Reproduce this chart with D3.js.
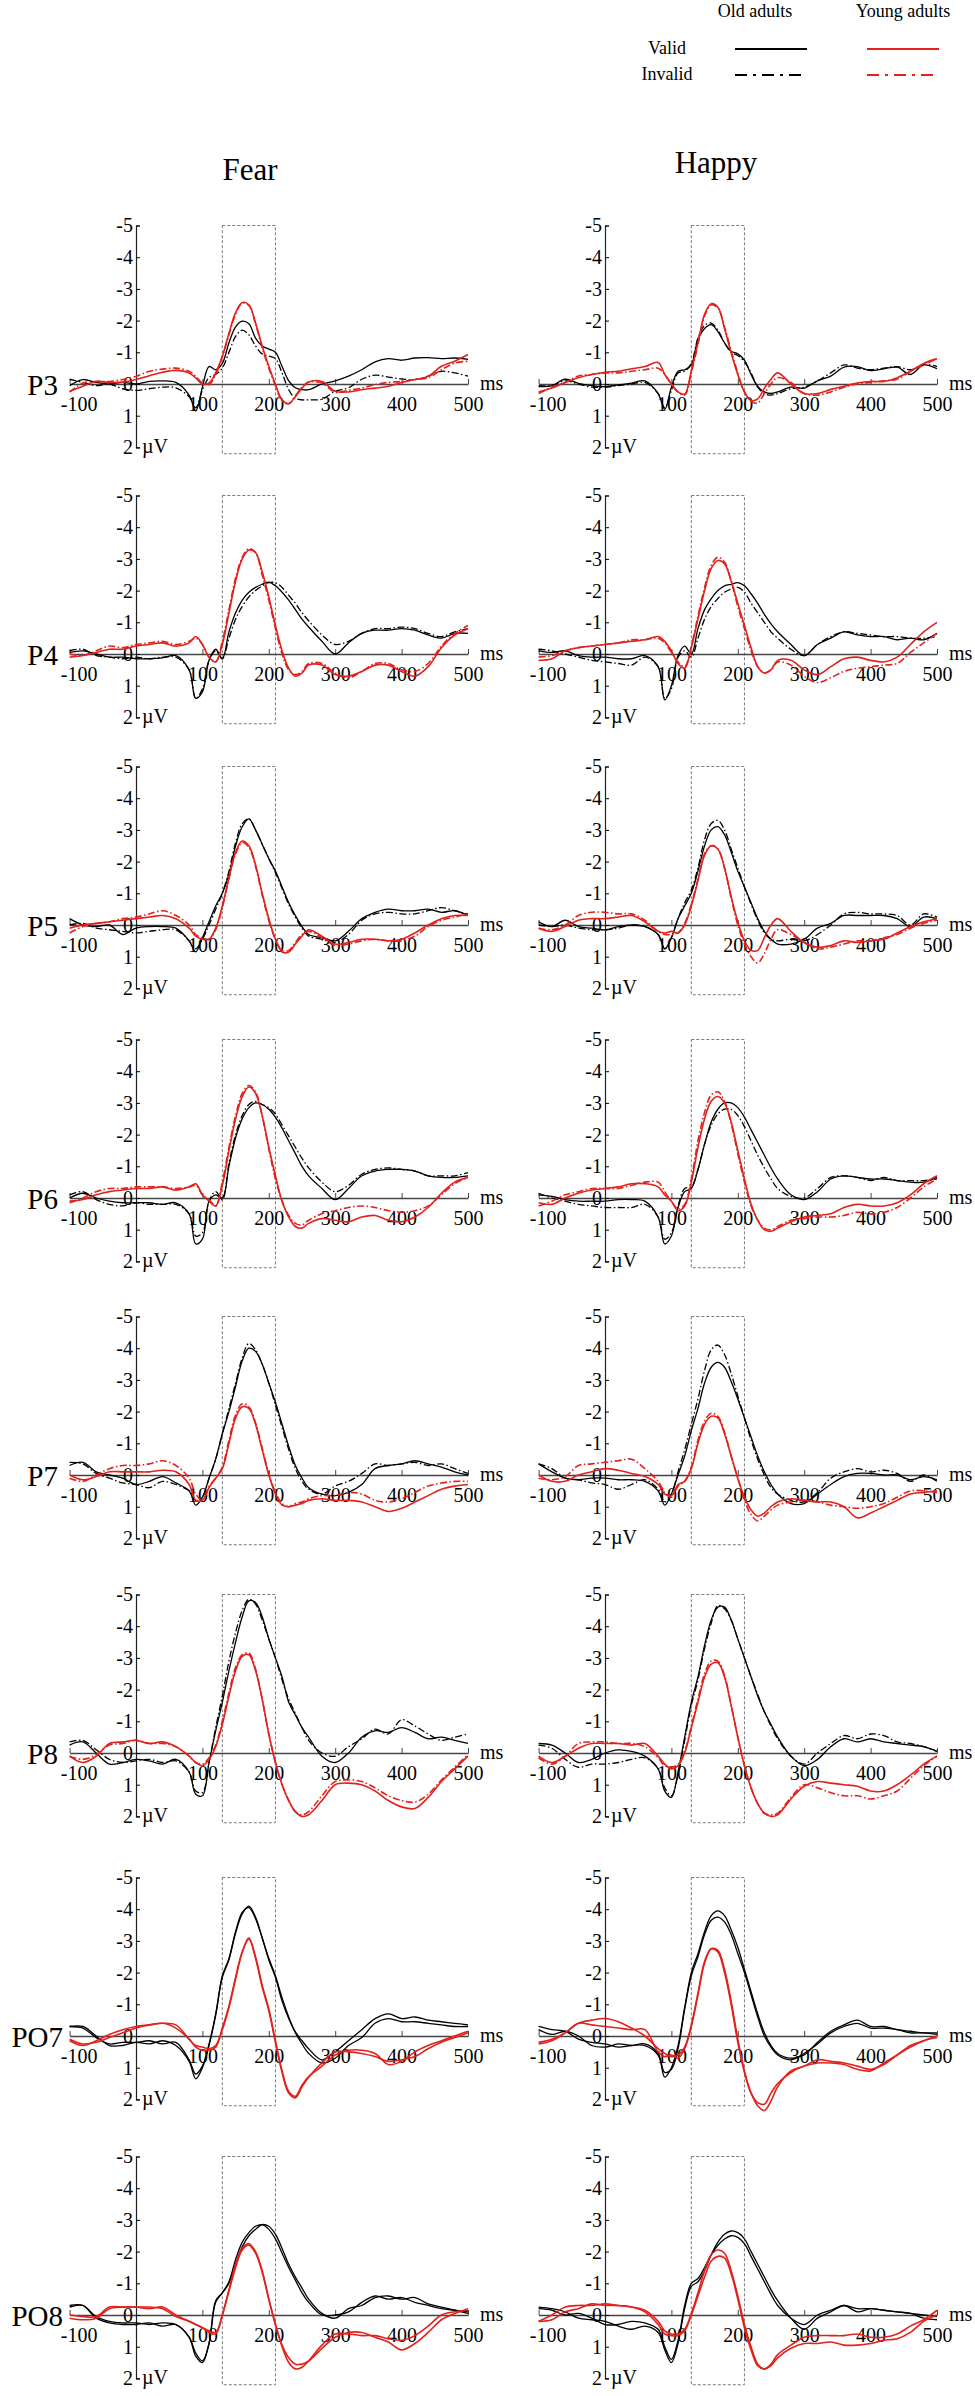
<!DOCTYPE html>
<html>
<head>
<meta charset="utf-8">
<script src="https://cdn.jsdelivr.net/npm/d3@7"></script>
<style>
  body { margin: 0; background: #fff; }
  svg { display: block; }
  text { font-family: "Liberation Serif", "Times New Roman", serif; fill: #000; }
</style>
</head>
<body>
<svg id="chart" width="975" height="2396"></svg>
<script>
// time points (ms) shared by every waveform
const times = [-100,-80,-60,-40,-20,0,20,40,60,80,90,100,110,120,130,140,150,160,170,180,190,200,210,220,230,240,250,260,280,300,320,340,360,380,400,420,440,460,480,500];

const electrodes = ["P3", "P4", "P5", "P6", "P7", "P8", "PO7", "PO8"];
const emotions = ["Fear", "Happy"];
const groups = ["Old adults", "Young adults"];
const conditions = ["Valid", "Invalid"];
const xTicks = [-100, 100, 200, 300, 400, 500];
const yTicks = [-5, -4, -3, -2, -1, 0, 1, 2];
const cueBox = [130, 210];          // ms, dashed analysis window
const dashedRows = ["P3", "P4", "P5", "P6", "P7", "P8"];

// amplitudes in microvolts (OV old valid, OI old invalid, YV young valid, YI young invalid)
const p3FearOV = [0.05,-0.14,-0.05,0,-0.05,0,-0.08,-0.1,-0.05,0.35,0.85,0.1,-0.55,-0.45,-0.65,-1.3,-1.8,-1.98,-1.9,-1.45,-1.2,-1.1,-1.0,-0.55,-0.1,0.12,0.18,0.18,0,-0.1,-0.25,-0.45,-0.7,-0.8,-0.75,-0.82,-0.83,-0.8,-0.82,-0.78];
const p3FearOI = [-0.15,-0.05,0.05,0,0.15,0.2,0.15,0.1,0.12,0.4,0.75,0.2,-0.2,-0.3,-0.5,-1.0,-1.5,-1.7,-1.55,-1.2,-0.95,-0.88,-0.8,-0.35,0.18,0.45,0.5,0.5,0.48,0.23,0.12,-0.15,-0.28,-0.22,-0.16,-0.14,-0.25,-0.4,-0.35,-0.25];
const p3FearYV = [0.23,0.07,-0.08,-0.05,-0.06,-0.14,-0.26,-0.37,-0.43,-0.35,-0.19,0,-0.03,-0.35,-0.88,-1.6,-2.25,-2.57,-2.5,-1.93,-1.2,-0.56,0.02,0.5,0.62,0.4,0.13,-0.06,-0.08,0.23,0.25,0.18,0.13,0.07,-0.05,-0.14,-0.24,-0.56,-0.72,-0.93];
const p3FearYI = [0.26,-0.03,-0.08,-0.08,-0.14,-0.24,-0.4,-0.47,-0.5,-0.4,-0.24,-0.03,0.02,-0.3,-0.85,-1.55,-2.2,-2.55,-2.48,-1.9,-1.15,-0.5,0.05,0.53,0.62,0.37,0.1,-0.06,-0.03,0.26,0.2,0.13,0.02,-0.05,-0.08,-0.14,-0.2,-0.45,-0.66,-0.72];
const p3HappyOV = [0.08,0.05,-0.15,-0.02,0.05,0.08,0.03,-0.03,-0.1,0.3,0.8,0.1,-0.4,-0.45,-0.6,-1.4,-1.75,-1.87,-1.65,-1.3,-1.03,-0.95,-0.75,-0.3,0.08,0.25,0.3,0.25,0.1,0.13,-0.1,-0.25,-0.53,-0.55,-0.42,-0.48,-0.53,-0.3,-0.6,-0.48];
const p3HappyOI = [0.05,0.05,-0.1,0,0.1,0.1,0.05,0,-0.05,0.3,0.75,0.2,-0.35,-0.4,-0.65,-1.45,-1.85,-1.92,-1.7,-1.3,-1.0,-0.9,-0.7,-0.35,0.1,0.3,0.35,0.3,0.15,0.1,-0.1,-0.35,-0.6,-0.5,-0.45,-0.5,-0.55,-0.45,-0.62,-0.55];
const p3HappyYV = [0.25,0.13,-0.05,-0.2,-0.3,-0.37,-0.4,-0.48,-0.55,-0.68,-0.3,0,0.25,0.32,-0.42,-1.3,-2.2,-2.53,-2.42,-1.75,-0.98,-0.3,0.25,0.52,0.47,0.13,-0.15,-0.35,0,0.3,0.3,0.17,0.07,-0.03,-0.08,-0.08,-0.2,-0.4,-0.65,-0.8];
const p3HappyYI = [0.3,0.1,-0.05,-0.25,-0.3,-0.35,-0.35,-0.4,-0.45,-0.5,-0.3,0,0.25,0.35,-0.35,-1.25,-2.15,-2.5,-2.4,-1.8,-1.05,-0.35,0.25,0.55,0.6,0.3,0,-0.2,-0.05,0.3,0.35,0.25,0.1,0,-0.05,-0.1,-0.15,-0.4,-0.6,-0.8];

const p4FearOV = [-0.05,-0.1,0,0.1,0.1,0.15,0.15,0.12,0.05,0.5,1.4,1.2,0.2,-0.15,0.15,-0.7,-1.3,-1.7,-1.95,-2.1,-2.2,-2.27,-2.15,-1.95,-1.7,-1.4,-1.1,-0.85,-0.4,0,-0.35,-0.65,-0.75,-0.75,-0.8,-0.75,-0.6,-0.5,-0.65,-0.65];
const p4FearOI = [-0.1,-0.15,0.05,0.1,0.15,0.1,0.15,0.1,0.1,0.5,1.4,1.1,0.2,-0.1,0.15,-0.5,-1.1,-1.5,-1.8,-2.0,-2.15,-2.25,-2.25,-2.1,-1.85,-1.6,-1.3,-1.05,-0.6,-0.3,-0.4,-0.65,-0.8,-0.8,-0.85,-0.8,-0.65,-0.55,-0.7,-0.8];
const p4FearYV = [0.1,0.05,-0.05,-0.15,-0.15,-0.25,-0.3,-0.35,-0.25,-0.35,-0.55,-0.3,0.1,0.25,-0.3,-1.3,-2.3,-3.0,-3.28,-3.2,-2.6,-1.8,-0.9,-0.1,0.45,0.7,0.6,0.35,0.35,0.65,0.7,0.55,0.35,0.35,0.55,0.7,0.4,-0.2,-0.6,-0.8];
const p4FearYI = [0,0.05,-0.1,-0.25,-0.2,-0.3,-0.35,-0.4,-0.3,-0.4,-0.5,-0.3,0.1,0.25,-0.4,-1.4,-2.4,-3.05,-3.33,-3.2,-2.5,-1.7,-0.8,0,0.5,0.65,0.55,0.3,0.3,0.6,0.75,0.55,0.3,0.3,0.5,0.55,0.3,-0.25,-0.65,-0.9];
const p4HappyOV = [-0.1,-0.05,-0.1,0.05,0.1,0.1,0.15,0.15,0.05,0.4,1.45,1.0,0.05,-0.25,0,-0.8,-1.4,-1.75,-2.0,-2.15,-2.2,-2.25,-2.15,-1.9,-1.6,-1.25,-0.95,-0.7,-0.3,0.05,-0.3,-0.5,-0.7,-0.6,-0.55,-0.55,-0.45,-0.5,-0.45,-0.65];
const p4HappyOI = [-0.15,-0.1,0,0.1,0.2,0.25,0.3,0.35,0.1,0.4,1.4,1.1,0.1,-0.1,0.1,-0.5,-1.1,-1.5,-1.75,-1.95,-2.05,-2.1,-1.95,-1.6,-1.3,-1.0,-0.7,-0.5,-0.15,0.05,-0.3,-0.55,-0.7,-0.65,-0.6,-0.55,-0.55,-0.5,-0.5,-0.55];
const p4HappyYV = [0.2,0.15,-0.1,-0.2,-0.25,-0.3,-0.35,-0.4,-0.45,-0.55,-0.4,-0.1,0.3,0.45,-0.2,-1.1,-2.0,-2.7,-2.95,-2.85,-2.3,-1.6,-0.9,-0.2,0.4,0.6,0.5,0.2,0.2,0.5,0.65,0.4,0.15,0.1,0.2,0.25,0.1,-0.3,-0.7,-1.0];
const p4HappyYI = [0.1,0.05,-0.1,-0.2,-0.25,-0.3,-0.35,-0.45,-0.45,-0.5,-0.35,-0.05,0.25,0.4,-0.25,-1.2,-2.1,-2.8,-3.05,-2.9,-2.3,-1.5,-0.8,-0.1,0.4,0.6,0.5,0.25,0.35,0.7,0.9,0.75,0.55,0.45,0.4,0.35,0.3,-0.05,-0.35,-0.65];

const p5FearOV = [-0.2,0,0.05,0,0.3,0.1,0.05,0.05,0.1,0.5,0.85,0.4,-0.1,-0.6,-1.0,-1.6,-2.5,-3.1,-3.35,-3.0,-2.55,-2.1,-1.7,-1.2,-0.7,-0.3,0.05,0.3,0.4,0.5,0.2,-0.2,-0.4,-0.5,-0.45,-0.45,-0.5,-0.4,-0.45,-0.3];
const p5FearOI = [0,-0.05,0.1,0.15,0.2,0.25,0.2,0.15,0.15,0.5,0.75,0.45,0,-0.5,-1.0,-1.7,-2.6,-3.2,-3.35,-3.0,-2.55,-2.1,-1.65,-1.15,-0.65,-0.25,0.1,0.35,0.45,0.55,0.3,-0.15,-0.35,-0.4,-0.35,-0.35,-0.45,-0.55,-0.45,-0.35];
const p5FearYV = [0.1,0,-0.05,-0.1,-0.15,-0.2,-0.25,-0.3,-0.2,0.1,0.35,0.45,0.45,0.1,-0.6,-1.5,-2.3,-2.65,-2.5,-1.9,-1.0,-0.2,0.45,0.85,0.85,0.6,0.35,0.15,0.35,0.6,0.55,0.45,0.45,0.5,0.45,0.25,0,-0.2,-0.3,-0.3];
const p5FearYI = [0.25,0.05,-0.05,-0.1,-0.2,-0.25,-0.35,-0.45,-0.3,0,0.3,0.4,0.45,0.15,-0.55,-1.45,-2.25,-2.6,-2.45,-1.85,-0.95,-0.15,0.45,0.8,0.8,0.55,0.3,0.2,0.4,0.65,0.6,0.5,0.45,0.5,0.5,0.35,0.05,-0.15,-0.25,-0.35];
const p5HappyOV = [-0.1,0.05,-0.15,0.05,0.1,0.15,0.05,0,0.05,0.3,0.75,0.4,-0.2,-0.6,-1.0,-1.7,-2.5,-3.0,-3.1,-2.85,-2.3,-1.7,-1.2,-0.7,-0.2,0.2,0.45,0.6,0.6,0.45,0.1,-0.05,-0.3,-0.3,-0.3,-0.3,-0.2,0.05,-0.25,-0.2];
const p5HappyOI = [0,0.05,0,0.1,0.15,0.15,0.1,0,0.05,0.3,0.75,0.4,-0.2,-0.7,-1.1,-1.8,-2.7,-3.2,-3.3,-3.0,-2.4,-1.8,-1.2,-0.65,-0.15,0.25,0.45,0.5,0.45,0.5,0.3,0,-0.35,-0.4,-0.35,-0.35,-0.3,0,-0.35,-0.25];
const p5HappyYV = [0.1,0.2,0.05,-0.15,-0.2,-0.2,-0.25,-0.3,-0.1,0.2,0.25,0.2,0.25,0,-0.6,-1.4,-2.2,-2.5,-2.4,-1.8,-0.9,-0.1,0.5,0.8,0.8,0.4,0,-0.2,0.2,0.55,0.7,0.65,0.5,0.55,0.5,0.45,0.25,0.05,-0.1,-0.2];
const p5HappyYI = [0.1,0.15,0,-0.3,-0.4,-0.4,-0.35,-0.35,-0.15,0.2,0.3,0.3,0.25,-0.05,-0.65,-1.45,-2.25,-2.5,-2.4,-1.8,-0.85,0,0.6,1.0,1.2,0.9,0.45,0.15,0.3,0.55,0.75,0.7,0.6,0.5,0.5,0.4,0.3,0.1,-0.05,-0.15];

const p6FearOV = [0,-0.15,0,0.1,0.15,0.15,0.15,0.2,0.15,0.5,1.45,1.3,0.1,-0.1,0,-1.0,-1.9,-2.5,-2.85,-3.0,-2.95,-2.8,-2.55,-2.2,-1.8,-1.4,-1.0,-0.7,-0.3,0.05,-0.3,-0.7,-0.85,-0.9,-0.9,-0.85,-0.7,-0.65,-0.65,-0.7];
const p6FearOI = [-0.1,-0.2,0.05,0.2,0.25,0.15,0.2,0.2,0.2,0.5,1.2,1.1,0.1,-0.2,0.05,-1.1,-2.0,-2.6,-2.95,-3.05,-2.95,-2.85,-2.65,-2.3,-1.95,-1.6,-1.25,-0.95,-0.5,-0.2,-0.4,-0.75,-0.9,-0.95,-0.9,-0.85,-0.7,-0.7,-0.7,-0.8];
const p6FearYV = [0.1,0.05,-0.1,-0.2,-0.25,-0.3,-0.3,-0.35,-0.25,-0.35,-0.45,-0.1,0.1,0.25,-0.4,-1.5,-2.5,-3.2,-3.5,-3.3,-2.6,-1.6,-0.7,0.1,0.6,0.9,0.95,0.8,0.65,0.7,0.75,0.6,0.55,0.7,0.75,0.6,0.3,-0.15,-0.5,-0.65];
const p6FearYI = [0.15,0,-0.2,-0.3,-0.3,-0.35,-0.35,-0.35,-0.3,-0.35,-0.4,-0.1,0.05,0.25,-0.5,-1.6,-2.6,-3.3,-3.55,-3.35,-2.6,-1.55,-0.6,0.1,0.55,0.8,0.85,0.7,0.5,0.4,0.3,0.25,0.3,0.4,0.45,0.4,0.25,-0.1,-0.45,-0.65];
const p6HappyOV = [-0.1,-0.05,0.05,0.1,0.1,0.1,0.05,0.05,0.1,0.6,1.45,1.2,0.3,-0.2,-0.3,-0.9,-1.7,-2.4,-2.8,-3.0,-3.0,-2.85,-2.55,-2.15,-1.75,-1.35,-0.95,-0.6,-0.1,0.05,-0.2,-0.6,-0.7,-0.65,-0.6,-0.6,-0.55,-0.5,-0.5,-0.65];
const p6HappyOI = [-0.15,0,0.1,0.2,0.25,0.3,0.3,0.3,0.2,0.6,1.3,1.1,0.25,-0.3,-0.35,-0.9,-1.7,-2.3,-2.65,-2.8,-2.8,-2.6,-2.25,-1.8,-1.35,-0.95,-0.6,-0.3,-0.05,0,-0.3,-0.65,-0.7,-0.65,-0.55,-0.65,-0.55,-0.55,-0.55,-0.6];
const p6HappyYV = [0.15,0.2,0,-0.15,-0.25,-0.3,-0.35,-0.45,-0.45,-0.35,-0.1,0.1,0.4,0.25,-0.5,-1.6,-2.5,-3.05,-3.2,-3.0,-2.4,-1.5,-0.6,0.2,0.7,1.0,1.05,0.95,0.75,0.6,0.55,0.5,0.3,0.2,0.25,0.25,0.15,-0.1,-0.45,-0.7];
const p6HappyYI = [0.25,0.1,-0.1,-0.2,-0.3,-0.3,-0.3,-0.4,-0.5,-0.5,-0.2,0.1,0.35,0.2,-0.6,-1.8,-2.7,-3.25,-3.35,-3.05,-2.35,-1.4,-0.5,0.25,0.7,0.95,1.0,0.9,0.7,0.65,0.6,0.6,0.55,0.45,0.5,0.45,0.3,0,-0.35,-0.6];

const p7FearOV = [-0.3,-0.4,-0.1,0,0.1,0.3,0.2,0.05,0.25,0.5,0.95,0.7,0.1,-0.5,-1.3,-2.0,-2.8,-3.6,-4.0,-3.9,-3.5,-2.9,-2.3,-1.6,-0.9,-0.3,0.1,0.4,0.6,0.65,0.55,0.3,-0.2,-0.3,-0.35,-0.45,-0.35,-0.25,-0.1,0];
const p7FearOI = [-0.4,-0.35,-0.05,0.1,0.25,0.3,0.4,0.2,0.3,0.5,0.8,0.7,0.1,-0.5,-1.3,-2.1,-2.9,-3.7,-4.15,-3.95,-3.5,-2.9,-2.2,-1.5,-0.8,-0.2,0.2,0.45,0.6,0.35,0.2,-0.05,-0.35,-0.3,-0.35,-0.4,-0.3,-0.35,-0.2,-0.05];
const p7FearYV = [0,0.15,0.05,-0.1,-0.1,-0.1,-0.1,-0.15,-0.1,0.3,0.8,0.8,0.4,0.1,-0.2,-1.0,-1.8,-2.15,-2.1,-1.6,-0.8,0,0.6,0.95,1.0,0.95,0.9,0.8,0.75,0.8,0.8,0.85,1.0,1.15,1.05,0.85,0.65,0.45,0.35,0.3];
const p7FearYI = [0.1,0.2,0,-0.2,-0.3,-0.3,-0.35,-0.45,-0.3,0.1,0.6,0.8,0.35,0.1,-0.25,-1.1,-1.9,-2.25,-2.15,-1.65,-0.85,-0.05,0.55,0.9,1.0,0.9,0.85,0.75,0.65,0.65,0.55,0.6,0.8,0.85,0.75,0.55,0.35,0.25,0.2,0.2];
const p7HappyOV = [-0.35,-0.1,0.1,0.15,0.1,0.1,0.15,0.15,0.2,0.5,0.95,0.6,0,-0.6,-1.4,-2.1,-2.9,-3.4,-3.55,-3.4,-2.95,-2.4,-1.8,-1.2,-0.6,-0.1,0.3,0.6,0.9,0.9,0.6,0.3,0.05,-0.05,-0.05,0,0,0.15,0.05,0.15];
const p7HappyOI = [-0.35,-0.2,0.1,0.15,0.25,0.3,0.45,0.3,0.15,0.45,0.85,0.6,-0.1,-0.8,-1.6,-2.4,-3.3,-3.95,-4.1,-3.8,-3.2,-2.5,-1.8,-1.1,-0.5,0,0.4,0.6,0.8,0.85,0.55,0.1,-0.1,-0.2,-0.1,-0.15,-0.05,0.2,0,0.2];
const p7HappyYV = [0,0.2,0.2,0,-0.1,-0.2,-0.15,-0.05,0.05,0.3,0.6,0.65,0.3,0.2,-0.2,-1.0,-1.6,-1.85,-1.8,-1.3,-0.6,0.1,0.7,1.1,1.3,1.2,1.0,0.85,0.75,0.8,0.85,0.85,1.0,1.35,1.2,1.0,0.8,0.6,0.55,0.5];
const p7HappyYI = [0.1,0.15,0.05,-0.3,-0.35,-0.4,-0.45,-0.5,-0.2,0.2,0.55,0.7,0.35,0.2,-0.25,-1.1,-1.7,-1.95,-1.85,-1.35,-0.6,0.1,0.8,1.25,1.45,1.3,1.1,0.95,0.85,0.8,0.85,0.95,1.0,1.05,1.0,0.9,0.7,0.5,0.5,0.55];

const p8FearOV = [-0.25,-0.35,0,0.35,0.3,0.2,0.25,0.35,0.2,0.6,1.3,1.35,0.3,-0.7,-1.6,-2.6,-3.5,-4.3,-4.8,-4.75,-4.3,-3.6,-3.0,-2.4,-1.6,-1.2,-0.8,-0.5,0.1,0.3,0,-0.5,-0.7,-0.65,-0.8,-0.65,-0.45,-0.5,-0.4,-0.3];
const p8FearOI = [-0.35,-0.4,-0.1,0.2,0.3,0.25,0.2,0.3,0.25,0.6,1.2,1.25,0.3,-0.8,-1.8,-2.9,-3.8,-4.5,-4.85,-4.7,-4.2,-3.6,-3.0,-2.3,-1.7,-1.25,-0.8,-0.4,0,0.1,-0.2,-0.45,-0.75,-0.6,-1.05,-0.85,-0.6,-0.4,-0.5,-0.6];
const p8FearYV = [0.1,0.3,0.1,-0.3,-0.35,-0.4,-0.3,-0.35,-0.2,0.1,0.3,0.4,0.2,-0.2,-0.9,-1.8,-2.6,-3.05,-3.1,-2.6,-1.7,-0.6,0.3,1.0,1.5,1.85,2.0,1.95,1.5,1.0,0.95,1.0,1.2,1.5,1.7,1.75,1.4,0.9,0.5,0.1];
const p8FearYI = [0.1,0.2,0.05,-0.25,-0.3,-0.4,-0.3,-0.3,-0.2,0.1,0.3,0.35,0.15,-0.25,-1.0,-1.9,-2.7,-3.1,-3.15,-2.65,-1.7,-0.6,0.3,1.0,1.5,1.85,1.95,1.85,1.35,0.9,0.85,0.9,1.1,1.35,1.5,1.55,1.3,0.85,0.45,0.05];
const p8HappyOV = [-0.3,-0.25,0,0.3,0.2,0,-0.1,-0.05,0.1,0.5,1.2,1.4,0.6,-0.5,-1.6,-2.4,-3.4,-4.2,-4.6,-4.6,-4.2,-3.6,-3.0,-2.4,-1.8,-1.3,-0.9,-0.5,0.1,0.4,0.2,-0.2,-0.45,-0.35,-0.45,-0.35,-0.3,-0.25,-0.2,-0.05];
const p8HappyOI = [-0.25,-0.15,0.2,0.45,0.35,0.35,0.3,0.2,0.15,0.5,1.1,1.35,0.7,-0.4,-1.5,-2.3,-3.3,-4.1,-4.65,-4.55,-4.2,-3.6,-3.0,-2.4,-1.85,-1.3,-0.85,-0.45,0.1,0.35,0,-0.3,-0.55,-0.45,-0.6,-0.55,-0.35,-0.3,-0.2,-0.05];
const p8HappyYV = [0.1,0.3,0.1,-0.15,-0.3,-0.3,-0.3,-0.25,-0.3,0.1,0.35,0.5,0.4,0,-0.8,-1.6,-2.4,-2.8,-2.85,-2.4,-1.5,-0.5,0.4,1.1,1.6,1.9,2.0,1.95,1.45,1.05,0.9,0.95,1.0,1.05,1.2,1.2,1.0,0.7,0.35,0.1];
const p8HappyYI = [0.15,0.35,0.1,-0.3,-0.35,-0.35,-0.3,-0.3,-0.2,0.15,0.4,0.45,0.35,-0.05,-0.85,-1.7,-2.5,-2.9,-2.9,-2.45,-1.5,-0.5,0.4,1.1,1.6,1.9,1.95,1.9,1.4,1.0,1.1,1.25,1.35,1.35,1.45,1.35,1.2,0.8,0.4,0.1];

const po7FearOV = [-0.3,-0.3,0,0.3,0.3,0.2,0.25,0.15,0.3,0.8,1.35,1.0,0.3,-0.65,-1.85,-2.4,-3.25,-3.85,-4.1,-3.75,-3.1,-2.4,-1.85,-1.1,-0.55,-0.13,0.15,0.4,0.75,0.5,0.15,-0.2,-0.55,-0.7,-0.55,-0.6,-0.5,-0.45,-0.4,-0.35];
const po7FearOI = [-0.3,-0.25,0.05,0.25,0.2,0.2,0.15,0.25,0.2,0.75,1.2,0.95,0.25,-0.7,-1.9,-2.45,-3.3,-3.9,-4.05,-3.7,-3.1,-2.45,-1.9,-1.2,-0.6,-0.1,0.25,0.55,0.85,0.7,0.3,0.05,-0.4,-0.55,-0.45,-0.45,-0.4,-0.35,-0.3,-0.3];
const po7FearYV = [0.1,0.25,0.2,0.05,-0.1,-0.25,-0.35,-0.4,-0.35,0.1,0.3,0.35,0.4,0.3,-0.2,-0.9,-1.8,-2.65,-3.1,-2.5,-1.6,-0.85,0.15,1.1,1.75,1.9,1.55,1.28,0.95,0.6,0.45,0.45,0.55,0.9,0.8,0.5,0.3,0.15,0,-0.15];
const po7FearYI = [0.15,0.3,0.15,-0.05,-0.2,-0.3,-0.35,-0.4,-0.25,0.1,0.35,0.45,0.45,0.35,-0.25,-0.95,-1.85,-2.65,-3.05,-2.45,-1.55,-0.8,0.2,1.15,1.8,1.95,1.6,1.3,0.85,0.5,0.5,0.55,0.65,0.8,0.75,0.65,0.4,0.2,0.05,-0.1];
const po7HappyOV = [-0.3,-0.2,-0.15,0.1,0.2,0.25,0.35,0.3,0.3,0.6,1.3,1.0,0.3,-0.9,-2.0,-2.6,-3.3,-3.8,-3.95,-3.8,-3.35,-2.8,-2.1,-1.4,-0.7,-0.1,0.3,0.55,0.7,0.6,0.2,-0.15,-0.35,-0.5,-0.3,-0.3,-0.2,-0.15,-0.1,-0.1];
const po7HappyOI = [-0.2,-0.05,-0.15,0,0.3,0.35,0.25,0.3,0.25,0.55,1.15,1.05,0.4,-0.85,-1.9,-2.5,-3.2,-3.65,-3.75,-3.6,-3.2,-2.6,-2.0,-1.3,-0.6,0,0.35,0.6,0.75,0.55,0.25,-0.1,-0.3,-0.4,-0.25,-0.25,-0.2,-0.1,-0.1,-0.05];
const po7HappyYV = [0.2,0.1,-0.1,-0.4,-0.35,-0.3,-0.25,-0.2,-0.2,0.5,0.65,0.6,0.7,0.4,-0.3,-1.3,-2.3,-2.75,-2.7,-2.1,-1.1,0.1,1.1,1.8,2.1,2.15,1.8,1.5,1.15,0.95,0.85,0.85,0.9,1.05,1.1,0.85,0.6,0.35,0.15,0.05];
const po7HappyYI = [0.25,0.15,-0.1,-0.4,-0.5,-0.55,-0.45,-0.25,0,0.4,0.55,0.65,0.6,0.35,-0.35,-1.35,-2.35,-2.75,-2.65,-2.0,-1.0,0.2,1.15,1.8,2.2,2.35,2.05,1.6,1.1,0.95,0.75,0.8,0.85,0.95,1.05,0.9,0.6,0.3,0.15,0];

const po8FearOV = [-0.3,-0.3,0.1,0.25,0.3,0.3,0.25,0.35,0.3,0.7,1.3,1.5,0.9,-0.45,-0.7,-1.0,-1.6,-2.15,-2.5,-2.7,-2.85,-2.8,-2.55,-2.1,-1.6,-1.2,-0.85,-0.5,-0.05,0.1,-0.2,-0.3,-0.55,-0.6,-0.5,-0.55,-0.35,-0.25,-0.15,-0.05];
const po8FearOI = [-0.25,-0.3,0.05,0.2,0.25,0.25,0.3,0.25,0.3,0.7,1.2,1.45,0.9,-0.4,-0.7,-1.05,-1.75,-2.3,-2.6,-2.8,-2.85,-2.7,-2.4,-1.95,-1.5,-1.1,-0.7,-0.4,0,0,-0.1,-0.4,-0.6,-0.5,-0.55,-0.4,-0.3,-0.2,-0.15,-0.1];
const po8FearYV = [0,0.05,0.05,-0.25,-0.25,-0.25,-0.2,-0.25,0,0.2,0.3,0.4,0.55,0.6,0,-0.8,-1.6,-2.1,-2.25,-2.0,-1.4,-0.5,0.3,1.0,1.5,1.7,1.65,1.45,0.95,0.6,0.6,0.65,0.65,0.75,0.8,0.65,0.35,0,-0.1,-0.15];
const po8FearYI = [0.1,0.15,0.1,-0.2,-0.25,-0.25,-0.25,-0.2,0.05,0.2,0.3,0.4,0.5,0.55,0,-0.75,-1.5,-2.05,-2.2,-1.95,-1.35,-0.5,0.3,0.95,1.35,1.55,1.55,1.45,1.05,0.7,0.55,0.55,0.7,0.85,1.1,0.9,0.55,0.15,-0.05,-0.2];
const po8HappyOV = [-0.25,-0.2,-0.1,0.1,0.15,0.2,0.35,0.45,0.35,0.55,1.1,1.5,0.9,-0.2,-0.9,-1.05,-1.4,-1.9,-2.3,-2.55,-2.65,-2.6,-2.4,-2.0,-1.6,-1.2,-0.8,-0.45,0.1,0.45,0.1,-0.1,-0.3,-0.1,-0.2,-0.15,-0.1,-0.05,0.1,0.15];
const po8HappyOI = [-0.2,-0.15,0,-0.05,0.1,0.3,0.3,0.2,0.25,0.45,1.0,1.4,0.8,-0.3,-1.0,-1.15,-1.5,-1.9,-2.2,-2.4,-2.5,-2.45,-2.25,-1.85,-1.45,-1.05,-0.65,-0.3,0.1,0.3,0,-0.15,-0.3,-0.2,-0.2,-0.15,-0.1,-0.05,0,0.05];
const po8HappyYV = [0.2,0,-0.25,-0.3,-0.3,-0.35,-0.3,-0.25,-0.1,0.3,0.6,0.65,0.65,0.5,0,-0.6,-1.2,-1.7,-1.85,-1.8,-1.3,-0.5,0.4,1.1,1.6,1.7,1.55,1.25,0.95,0.7,0.65,0.65,0.65,0.6,0.7,0.7,0.6,0.35,0.15,-0.15];
const po8HappyYI = [0.2,0.15,-0.1,-0.2,-0.35,-0.3,-0.3,-0.25,-0.15,0.2,0.5,0.6,0.6,0.45,-0.05,-0.7,-1.4,-1.9,-2.05,-1.95,-1.4,-0.6,0.3,1.0,1.55,1.7,1.6,1.35,1.05,0.9,0.9,0.85,0.95,0.95,0.9,0.8,0.75,0.55,0.2,0];

// [old valid, old invalid, young valid, young invalid] per electrode and emotion
const waves = {
  P3:  { Fear: [p3FearOV, p3FearOI, p3FearYV, p3FearYI], Happy: [p3HappyOV, p3HappyOI, p3HappyYV, p3HappyYI] },
  P4:  { Fear: [p4FearOV, p4FearOI, p4FearYV, p4FearYI], Happy: [p4HappyOV, p4HappyOI, p4HappyYV, p4HappyYI] },
  P5:  { Fear: [p5FearOV, p5FearOI, p5FearYV, p5FearYI], Happy: [p5HappyOV, p5HappyOI, p5HappyYV, p5HappyYI] },
  P6:  { Fear: [p6FearOV, p6FearOI, p6FearYV, p6FearYI], Happy: [p6HappyOV, p6HappyOI, p6HappyYV, p6HappyYI] },
  P7:  { Fear: [p7FearOV, p7FearOI, p7FearYV, p7FearYI], Happy: [p7HappyOV, p7HappyOI, p7HappyYV, p7HappyYI] },
  P8:  { Fear: [p8FearOV, p8FearOI, p8FearYV, p8FearYI], Happy: [p8HappyOV, p8HappyOI, p8HappyYV, p8HappyYI] },
  PO7: { Fear: [po7FearOV, po7FearOI, po7FearYV, po7FearYI], Happy: [po7HappyOV, po7HappyOI, po7HappyYV, po7HappyYI] },
  PO8: { Fear: [po8FearOV, po8FearOI, po8FearYV, po8FearYI], Happy: [po8HappyOV, po8HappyOI, po8HappyYV, po8HappyYI] }
};

// layout
const colAxisX = [136, 605];        // x of time 0 in each column
const rowZeroY = [384, 654, 925, 1198, 1475, 1753, 2036, 2315];
const pxPerMs = 0.664;
const pxPerUv = 31.7;
const red = "#e3211c";
const dashDot = "7,2.5,1.5,2.5";

const svg = d3.select("#chart");

// column titles
svg.append("text").attr("x", 250).attr("y", 180).attr("text-anchor", "middle")
  .style("font-size", "31px").text(emotions[0]);
svg.append("text").attr("x", 716).attr("y", 173).attr("text-anchor", "middle")
  .style("font-size", "31px").text(emotions[1]);

// legend
const legend = svg.append("g").style("font-size", "18px");
legend.append("text").attr("x", 755).attr("y", 17).attr("text-anchor", "middle").text(groups[0]);
legend.append("text").attr("x", 903).attr("y", 17).attr("text-anchor", "middle").text(groups[1]);
conditions.forEach(function (c, i) {
  const ly = 49 + i * 26;
  legend.append("text").attr("x", 667).attr("y", ly + 5).attr("text-anchor", "middle").text(c);
  [[735, "#000"], [867, red]].forEach(function (p) {
    legend.append("line").attr("x1", p[0]).attr("x2", p[0] + 72).attr("y1", ly).attr("y2", ly)
      .attr("stroke", p[1]).attr("stroke-width", 2)
      .attr("stroke-dasharray", i === 1 ? "12,6,3,6" : null);
  });
});

electrodes.forEach(function (el, r) {
  emotions.forEach(function (em, c) {
    const ax = colAxisX[c], z = rowZeroY[r];
    const x = d3.scaleLinear().domain([-100, 500]).range([ax - 100 * pxPerMs, ax + 500 * pxPerMs]);
    const y = d3.scaleLinear().domain([-5, 2]).range([z - 5 * pxPerUv, z + 2 * pxPerUv]);
    const g = svg.append("g");

    // dashed analysis window
    g.append("rect")
      .attr("x", x(cueBox[0])).attr("width", x(cueBox[1]) - x(cueBox[0]))
      .attr("y", y(-5)).attr("height", y(2.2) - y(-5))
      .attr("fill", "none").attr("stroke", "#7a7a7a").attr("stroke-width", 1)
      .attr("stroke-dasharray", "3,2");

    // time axis through zero
    const gx = g.append("g").attr("transform", "translate(0," + y(0) + ")")
      .call(d3.axisBottom(x).tickValues(xTicks).tickSizeInner(-5).tickSizeOuter(0)
        .tickPadding(13).tickFormat(String));
    gx.select(".domain").attr("stroke", "#444").attr("stroke-width", 1.6);
    gx.selectAll(".tick line").attr("stroke", "#444");
    gx.selectAll("text").style("font-size", "20px").attr("fill", "#000")
      .style("font-family", "'Liberation Serif', serif")
      .attr("dx", function (d) { return d < 0 ? 9 : 0; });

    // voltage axis at time zero
    const gy = g.append("g").attr("transform", "translate(" + x(0) + ",0)")
      .call(d3.axisLeft(y).tickValues(yTicks).tickSizeInner(-4).tickSizeOuter(-4)
        .tickPadding(3).tickFormat(String));
    gy.select(".domain").attr("stroke", "#222").attr("stroke-width", 1.2);
    gy.selectAll("text").style("font-size", "20px").attr("fill", "#000")
      .style("font-family", "'Liberation Serif', serif");

    g.append("text").attr("x", x(500) + 12).attr("y", y(0) + 6).style("font-size", "20px").text("ms");
    g.append("text").attr("x", x(0) + 6).attr("y", y(2) + 6).style("font-size", "20px").text("\u00b5V");

    if (c === 0) {
      g.append("text").attr("x", el.length > 2 ? 63 : 58).attr("y", z + 11).attr("text-anchor", "end")
        .style("font-size", "29px").text(el);
    }

    const line = d3.line()
      .x(function (d, i) { return x(times[i]); })
      .y(function (d) { return y(d); })
      .curve(d3.curveCatmullRom.alpha(0.5));

    const useDash = dashedRows.indexOf(el) >= 0;
    waves[el][em].forEach(function (vals, k) {
      if (vals.length !== times.length) {
        console.error("length mismatch", el, em, k, vals.length);
      }
      const young = k >= 2, invalid = k % 2 === 1;
      g.append("path").datum(vals)
        .attr("d", line)
        .attr("fill", "none")
        .attr("stroke", young ? red : "#000")
        .attr("stroke-width", young ? 1.6 : 1.3)
        .attr("stroke-dasharray", invalid && useDash ? dashDot : null);
    });
  });
});
</script>
</body>
</html>
